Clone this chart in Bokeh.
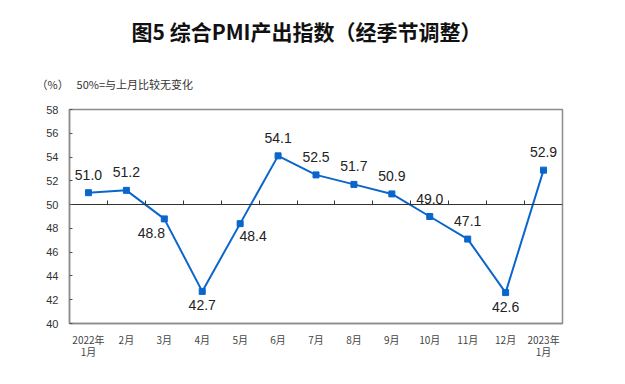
from bokeh.plotting import figure
from bokeh.models import (ColumnDataSource, LabelSet, Title, LinearAxis,
                          FixedTicker, Range1d)
from bokeh.core.properties import value
from bokeh.embed import file_html
from bokeh.resources import INLINE

# ---- data ----
months = ["2022年\n1月", "2月", "3月", "4月", "5月", "6月", "7月", "8月",
          "9月", "10月", "11月", "12月", "2023年\n1月"]
pmi = [51.0, 51.2, 48.8, 42.7, 48.4, 54.1, 52.5, 51.7, 50.9, 49.0, 47.1, 42.6, 52.9]
y_ticks = [40, 42, 44, 46, 48, 50, 52, 54, 56, 58]
label_side = ["above", "above", "below-left", "below", "below-right", "above",
              "above", "above", "above", "above", "above", "below", "above"]

title_text = "图5 综合PMI产出指数（经季节调整）"
note_text = "50%=与上月比较无变化"
unit_text = "（%）"

# ---- styling ----
BLUE = "#0A66CC"
GRAY = "#8C8C8C"
CJK = "Noto Sans CJK SC"
ARIAL = "Arial"

offsets = {"above": (0, 18), "below": (0, -14),
           "below-left": (-13, -14), "below-right": (13, -12)}

idx = list(range(len(months)))
src = ColumnDataSource(dict(
    x=idx, y=pmi, txt=[f"{v:.1f}" for v in pmi],
    dx=[offsets[s][0] for s in label_side],
    dy=[offsets[s][1] for s in label_side],
))

p = figure(frame_width=493, frame_height=214,
           x_range=Range1d(-0.5, len(months) - 0.5), y_range=Range1d(40, 58),
           output_backend="svg", toolbar_location=None,
           min_border_left=69, min_border_right=55,
           min_border_top=109, min_border_bottom=45)
p.background_fill_color = "white"
p.border_fill_color = "white"
p.outline_line_color = GRAY
p.outline_line_width = 1.5
p.xgrid.visible = False
p.ygrid.visible = False

# y axis
p.yaxis.ticker = FixedTicker(ticks=y_ticks)
p.yaxis.minor_tick_line_color = None
p.yaxis.major_tick_in = 3
p.yaxis.major_tick_out = 0
p.yaxis.major_tick_line_color = "#555555"
p.yaxis.axis_line_color = GRAY
p.yaxis.axis_line_width = 1.5
p.yaxis.major_label_text_font = ARIAL
p.yaxis.major_label_text_font_size = "11px"
p.yaxis.major_label_text_color = "#333333"
p.yaxis.major_label_standoff = 11

# x axis (labels only)
p.xaxis.ticker = FixedTicker(ticks=idx)
p.xaxis.major_label_overrides = {i: m for i, m in zip(idx, months)}
p.xaxis.minor_tick_line_color = None
p.xaxis.major_tick_in = 0
p.xaxis.major_tick_out = 0
p.xaxis.axis_line_color = GRAY
p.xaxis.axis_line_width = 1.5
p.xaxis.major_label_text_font = CJK
p.xaxis.major_label_text_font_size = "10px"
p.xaxis.major_label_text_color = "#444444"
p.xaxis.major_label_text_line_height = 0.85
p.xaxis.major_label_standoff = 8

# 50 line with ticks at category boundaries
mid = LinearAxis(fixed_location=50,
                 ticker=FixedTicker(ticks=[i + 0.5 for i in idx[:-1]]))
mid.major_tick_in = 4
mid.major_tick_out = 0
mid.minor_tick_line_color = None
mid.major_label_text_font_size = "0px"
mid.major_label_text_color = None
mid.axis_line_color = "#333333"
mid.major_tick_line_color = "#333333"
mid.axis_line_width = 1
p.add_layout(mid, "below")

# series
p.line("x", "y", source=src, line_color=BLUE, line_width=2)
p.scatter("x", "y", source=src, marker="square", size=6,
          fill_color=BLUE, line_color=BLUE)

p.add_layout(LabelSet(x="x", y="y", text="txt", source=src,
                      x_offset="dx", y_offset="dy",
                      text_align="center", text_baseline="middle",
                      text_font=value(ARIAL), text_font_size="14px",
                      text_color="#222222"))

# texts (titles stacked above the frame)
p.add_layout(Title(text=unit_text + "\u3000 " + note_text, align="left",
                   offset=-33, standoff=35,
                   text_font=CJK, text_font_size="11px",
                   text_font_style="normal", text_color="#333333"), "above")
p.add_layout(Title(text=title_text, align="left", offset=62, standoff=22,
                   text_font=CJK, text_font_size="21px",
                   text_font_style="bold", text_color="#111111"), "above")

open("out.html", "w").write(file_html(p, INLINE))
